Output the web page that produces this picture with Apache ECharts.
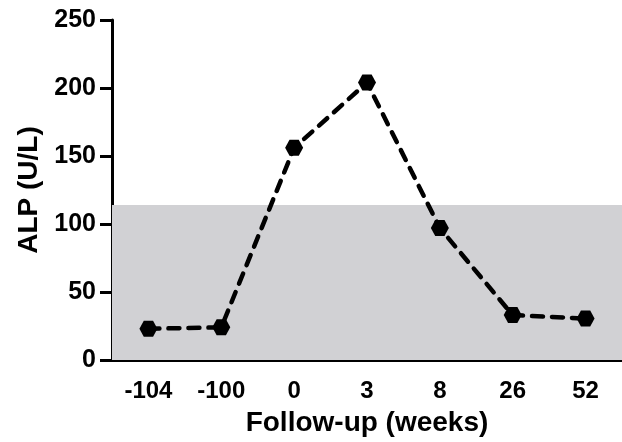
<!DOCTYPE html>
<html><head><meta charset="utf-8">
<script src="https://cdn.jsdelivr.net/npm/echarts@6/dist/echarts.min.js"></script>
<style>html,body{margin:0;padding:0;background:#fff}#c{width:622px;height:442px}</style>
</head><body><div id="c"></div>
<script>
const categories = ['-104', '-100', '0', '3', '8', '26', '52'];
const alpValues = [23, 24, 156, 204, 97, 33, 30.5];
const normalRange = [0, 114];
const yTicks = { min: 0, max: 250, interval: 50 };

const font = 'Liberation Sans, Arial, sans-serif';
const chart = echarts.init(document.getElementById('c'));
chart.setOption({
  animation: false,
  grid: { left: 112, top: 20, width: 512, height: 341 },
  xAxis: {
    type: 'category', data: categories, boundaryGap: true,
    name: 'Follow-up (weeks)', nameLocation: 'middle', nameGap: 49,
    nameTextStyle: { fontFamily: font, fontWeight: 'bold', fontSize: 28, color: '#000' },
    axisLine: { lineStyle: { color: '#000', width: 3 } },
    axisTick: { alignWithLabel: true, length: 8, lineStyle: { color: '#000', width: 3 } },
    axisLabel: { fontFamily: font, fontWeight: 'bold', fontSize: 24, color: '#000', margin: 19 },
    splitLine: { show: false }
  },
  yAxis: {
    type: 'value', min: yTicks.min, max: yTicks.max, interval: yTicks.interval,
    name: 'ALP (U/L)', nameLocation: 'middle', nameGap: 68, nameRotate: 90,
    nameTextStyle: { fontFamily: font, fontWeight: 'bold', fontSize: 28, color: '#000' },
    axisLine: { show: true, lineStyle: { color: '#000', width: 3 } },
    axisTick: { show: true, length: 12, lineStyle: { color: '#000', width: 3 } },
    axisLabel: { fontFamily: font, fontWeight: 'bold', fontSize: 25, color: '#000', margin: 16 },
    splitLine: { show: false }
  },
  series: [{
    type: 'line', data: alpValues,
    symbol: 'path://M0,5 L2.9,0 L9.1,0 L12,5 L9.1,10 L2.9,10 Z',
    symbolSize: [18, 16], symbolKeepAspect: false,
    itemStyle: { color: '#000' },
    lineStyle: { color: '#000', width: 4.5, type: [11, 9], cap: 'round' },
    markArea: {
      silent: true,
      itemStyle: { color: '#d1d1d4' },
      data: [[{ yAxis: normalRange[0] }, { yAxis: normalRange[1] }]]
    },
    z: 3
  }]
});
</script></body></html>
